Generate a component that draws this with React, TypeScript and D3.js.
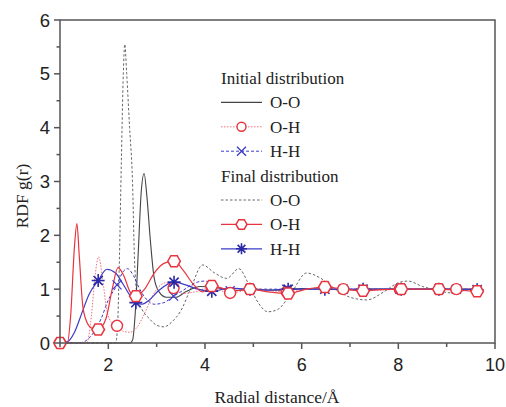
import React from "react";
import * as d3 from "d3";

// ---- data ----
const ooInitX = [1.0, 2.45, 2.5, 2.56, 2.62, 2.68, 2.74, 2.8, 2.87, 2.95, 3.05, 3.2, 3.4, 3.6, 3.9, 4.2, 4.6, 5.0, 5.5, 6.0, 6.5, 7.0, 7.5, 8.0, 8.5, 9.0, 9.5, 9.7];
const ooInitY = [0, 0, 0.05, 0.6, 1.7, 2.8, 3.15, 2.7, 1.9, 1.2, 0.95, 0.85, 0.85, 0.95, 1.05, 1.03, 0.98, 1.0, 0.98, 1.01, 1.0, 0.99, 1.0, 1.0, 1.0, 1.0, 1.0, 1.0];

const ooFinX = [1.0, 2.15, 2.19, 2.23, 2.27, 2.31, 2.34, 2.38, 2.44, 2.5, 2.54, 2.6, 2.7, 2.85, 3.0, 3.15, 3.3, 3.5, 3.7, 3.95, 4.2, 4.45, 4.7, 4.9, 5.1, 5.3, 5.5, 5.8, 6.1, 6.4, 6.7, 7.0, 7.35, 7.7, 8.0, 8.2, 8.5, 8.8, 9.1, 9.4, 9.7];
const ooFinY = [0, 0, 0.3, 1.6, 3.4, 5.0, 5.55, 5.0, 4.0, 3.0, 1.6, 0.85, 0.62, 0.45, 0.33, 0.3, 0.38, 0.6, 1.0, 1.45, 1.3, 1.2, 1.38, 1.1, 0.75, 0.58, 0.62, 0.95, 1.3, 1.2, 1.0, 0.85, 0.8, 0.95, 1.12, 1.15, 1.05, 0.98, 0.93, 0.98, 1.0];

const ohInitX = [1.0, 1.55, 1.65, 1.72, 1.8, 1.88, 1.97, 2.07, 2.18, 2.3, 2.45, 2.6, 2.75, 2.9, 3.05, 3.2, 3.35, 3.55, 3.8, 4.1, 4.52, 5.0, 5.69, 6.3, 6.86, 7.45, 8.03, 8.6, 9.2, 9.7];
const ohInitY = [0, 0, 0.5, 1.2, 1.6, 1.2, 0.6, 0.38, 0.32, 0.22, 0.2, 0.3, 0.55, 0.85, 1.05, 1.12, 1.02, 0.92, 0.95, 1.03, 0.93, 1.0, 0.95, 1.02, 1.0, 0.98, 1.0, 1.0, 1.0, 0.99];
const ohInitMarkX = [1.0, 2.18, 3.35, 4.52, 5.69, 6.86, 8.03, 9.2];

const ohFinX = [1.0, 1.15, 1.22, 1.3, 1.35, 1.4, 1.47, 1.55, 1.65, 1.79, 1.95, 2.08, 2.2, 2.32, 2.45, 2.57, 2.75, 2.95, 3.15, 3.36, 3.55, 3.75, 3.95, 4.14, 4.35, 4.55, 4.75, 4.93, 5.3, 5.72, 6.1, 6.48, 6.9, 7.27, 7.65, 8.06, 8.45, 8.84, 9.25, 9.63];
const ohFinY = [0, 0, 0.5, 1.8, 2.22, 1.6, 0.7, 0.4, 0.28, 0.25, 0.45, 1.0, 1.4, 1.25, 0.95, 0.87, 1.0, 1.3, 1.48, 1.52, 1.35, 1.1, 0.95, 1.06, 1.02, 0.97, 0.98, 1.0, 0.95, 0.92, 1.0, 1.04, 1.0, 0.97, 0.99, 1.0, 1.0, 1.0, 0.98, 0.96];
const ohFinMarkX = [1.0, 1.79, 2.57, 3.36, 4.14, 4.93, 5.72, 6.48, 7.27, 8.06, 8.84, 9.63];

const hhInitX = [1.0, 1.4, 1.55, 1.7, 1.85, 2.0, 2.18, 2.3, 2.4, 2.52, 2.65, 2.8, 2.95, 3.15, 3.35, 3.55, 3.8, 4.0, 4.25, 4.52, 5.1, 5.69, 6.3, 6.86, 7.45, 8.03, 8.6, 9.2, 9.7];
const hhInitY = [0, 0, 0.05, 0.2, 0.45, 0.8, 1.08, 1.32, 1.38, 1.25, 1.0, 0.8, 0.72, 0.75, 0.87, 0.98, 1.12, 1.15, 1.05, 0.97, 1.0, 1.0, 1.0, 1.0, 1.0, 1.0, 1.0, 1.0, 1.0];
const hhInitMarkX = [2.18, 3.35, 4.52, 5.69, 6.86, 8.03, 9.2];

const hhFinX = [1.0, 1.15, 1.3, 1.45, 1.6, 1.79, 1.97, 2.15, 2.3, 2.45, 2.57, 2.7, 2.85, 3.05, 3.36, 3.6, 3.85, 4.14, 4.5, 4.93, 5.3, 5.72, 6.1, 6.48, 6.9, 7.27, 7.65, 8.06, 8.45, 8.84, 9.25, 9.63];
const hhFinY = [0, 0.02, 0.2, 0.55, 0.9, 1.16, 1.37, 1.3, 1.1, 0.88, 0.75, 0.72, 0.8, 0.98, 1.13, 1.08, 1.0, 0.96, 1.02, 1.0, 0.98, 1.0, 1.0, 1.0, 1.0, 1.0, 1.0, 1.0, 1.0, 1.0, 1.0, 0.99];
const hhFinMarkX = [1.79, 2.57, 3.36, 4.14, 4.93, 5.72, 6.48, 7.27, 8.06, 8.84, 9.63];

const xTicks = [2, 4, 6, 8, 10];
const xMinor = [1, 3, 5, 7, 9];
const yTicks = [0, 1, 2, 3, 4, 5, 6];
const yMinor = [0.5, 1.5, 2.5, 3.5, 4.5, 5.5];

const legendTitles = ["Initial distribution", "Final distribution"];
const legendLabels = ["O-O", "O-H", "H-H"];

// ---- styles ----
const RED = "#e8343e";
const RED_L = "#f07078";
const BLUE = "#3c3cc8";
const BLUE_D = "#2a2aa8";
const GRAY = "#555";
const SERIF = "'Liberation Serif', 'Times New Roman', serif";
const SANS = "'Liberation Sans', Arial, sans-serif";

const W = 506, H = 407;
const x = d3.scaleLinear().domain([1, 10]).range([60, 495]);
const y = d3.scaleLinear().domain([0, 6]).range([343, 20]);

function makeLine(xs: number[], ys: number[]) {
  const pts = xs.map((v, i) => [v, ys[i]] as [number, number]);
  return d3.line<[number, number]>().x(d => x(d[0])).y(d => y(d[1])).curve(d3.curveMonotoneX)(pts) || "";
}
function interp(xs: number[], ys: number[], xv: number) {
  const i = xs.findIndex(v => Math.abs(v - xv) < 1e-6);
  if (i >= 0) return ys[i];
  const j = d3.bisectLeft(xs, xv);
  const t = (xv - xs[j - 1]) / (xs[j] - xs[j - 1]);
  return ys[j - 1] + t * (ys[j] - ys[j - 1]);
}

function Hexagon({ cx, cy, r, color }: { cx: number; cy: number; r: number; color: string }) {
  const pts = d3.range(6).map(i => {
    const a = (Math.PI / 3) * i;
    return `${cx + r * Math.cos(a)},${cy + r * Math.sin(a)}`;
  }).join(" ");
  return <polygon points={pts} fill="white" stroke={color} strokeWidth={1.5} />;
}
function Cross({ cx, cy, r, color }: { cx: number; cy: number; r: number; color: string }) {
  return <path d={`M${cx - r},${cy - r}L${cx + r},${cy + r}M${cx - r},${cy + r}L${cx + r},${cy - r}`} stroke={color} strokeWidth={1.3} fill="none" />;
}
function Star({ cx, cy, r, color }: { cx: number; cy: number; r: number; color: string }) {
  const d = d3.range(4).map(i => {
    const a = (Math.PI / 4) * i;
    const dx = r * Math.cos(a), dy = r * Math.sin(a);
    return `M${cx - dx},${cy - dy}L${cx + dx},${cy + dy}`;
  }).join("");
  return <path d={d} stroke={color} strokeWidth={1.6} fill="none" />;
}

export default function App() {
  const legendX0 = 221, legendX1 = 262, legendTextX = 270;
  const rowY = (i: number) => 78 + i * 24.4;

  return (
    <svg width={W} height={H} style={{ display: "block", position: "absolute", left: 0, top: 0, background: "white" }}>
      <rect width={W} height={H} fill="white" />
      {/* curves */}
      <path d={makeLine(ooFinX, ooFinY)} fill="none" stroke="#666" strokeWidth={1} strokeDasharray="2.5,2" />
      <path d={makeLine(ooInitX, ooInitY)} fill="none" stroke="#444" strokeWidth={1.1} />
      <path d={makeLine(hhInitX, hhInitY)} fill="none" stroke={BLUE} strokeWidth={1} strokeDasharray="3,2" />
      <path d={makeLine(ohInitX, ohInitY)} fill="none" stroke={RED_L} strokeWidth={1} strokeDasharray="1.5,1.5" />
      <path d={makeLine(hhFinX, hhFinY)} fill="none" stroke={BLUE} strokeWidth={1.2} />
      <path d={makeLine(ohFinX, ohFinY)} fill="none" stroke={RED} strokeWidth={1.2} />
      {/* markers */}
      {hhInitMarkX.map((v, i) => <Cross key={"hx" + i} cx={x(v)} cy={y(interp(hhInitX, hhInitY, v))} r={4.5} color={BLUE} />)}
      {ohInitMarkX.map((v, i) => <circle key={"oc" + i} cx={x(v)} cy={y(interp(ohInitX, ohInitY, v))} r={5.5} fill="white" stroke={RED} strokeWidth={1.4} />)}
      {hhFinMarkX.map((v, i) => <Star key={"hs" + i} cx={x(v)} cy={y(interp(hhFinX, hhFinY, v))} r={6.5} color={BLUE_D} />)}
      {ohFinMarkX.map((v, i) => <Hexagon key={"oh" + i} cx={x(v)} cy={y(interp(ohFinX, ohFinY, v))} r={6.3} color={RED} />)}

      {/* frame */}
      <rect x={60} y={20} width={435} height={323} fill="none" stroke={GRAY} strokeWidth={1.5} />
      {/* x ticks */}
      {xTicks.map(t => (
        <g key={"xt" + t}>
          <line x1={x(t)} x2={x(t)} y1={343} y2={349} stroke={GRAY} strokeWidth={1.5} />
          <text x={x(t)} y={371} textAnchor="middle" fontFamily={SANS} fontSize={18} fill="#222">{t}</text>
        </g>
      ))}
      {xMinor.map(t => <line key={"xm" + t} x1={x(t)} x2={x(t)} y1={343} y2={347} stroke={GRAY} strokeWidth={1.5} />)}
      {yTicks.map(t => (
        <g key={"yt" + t}>
          <line x1={54} x2={60} y1={y(t)} y2={y(t)} stroke={GRAY} strokeWidth={1.5} />
          <text x={50} y={y(t) + 6.5} textAnchor="end" fontFamily={SANS} fontSize={18.5} fill="#222">{t}</text>
        </g>
      ))}
      {yMinor.map(t => <line key={"ym" + t} x1={56.5} x2={60} y1={y(t)} y2={y(t)} stroke={GRAY} strokeWidth={1.5} />)}

      {/* axis titles */}
      <text x={277} y={403} textAnchor="middle" fontFamily={SERIF} fontSize={17.5} fill="#222">Radial distance/Å</text>
      <text transform="translate(28,196) rotate(-90)" textAnchor="middle" fontFamily={SERIF} fontSize={17.5} fill="#222">RDF g(r)</text>

      {/* legend */}
      <text x={221} y={rowY(0) + 6} fontFamily={SERIF} fontSize={17} fill="#222">{legendTitles[0]}</text>
      <line x1={legendX0} x2={legendX1} y1={rowY(1)} y2={rowY(1)} stroke="#444" strokeWidth={1.1} />
      <line x1={legendX0} x2={legendX1} y1={rowY(2)} y2={rowY(2)} stroke={RED_L} strokeWidth={1} strokeDasharray="1.5,1.5" />
      <circle cx={(legendX0 + legendX1) / 2} cy={rowY(2)} r={4.5} fill="white" stroke={RED} strokeWidth={1.4} />
      <line x1={legendX0} x2={legendX1} y1={rowY(3)} y2={rowY(3)} stroke={BLUE} strokeWidth={1} strokeDasharray="3,2" />
      <Cross cx={(legendX0 + legendX1) / 2} cy={rowY(3)} r={4.5} color={BLUE} />
      <text x={221} y={rowY(4) + 6} fontFamily={SERIF} fontSize={17} fill="#222">{legendTitles[1]}</text>
      <line x1={legendX0} x2={legendX1} y1={rowY(5)} y2={rowY(5)} stroke="#666" strokeWidth={1} strokeDasharray="2.5,2" />
      <line x1={legendX0} x2={legendX1} y1={rowY(6)} y2={rowY(6)} stroke={RED} strokeWidth={1.2} />
      <Hexagon cx={(legendX0 + legendX1) / 2} cy={rowY(6)} r={5.5} color={RED} />
      <line x1={legendX0} x2={legendX1} y1={rowY(7)} y2={rowY(7)} stroke={BLUE} strokeWidth={1.2} />
      <Star cx={(legendX0 + legendX1) / 2} cy={rowY(7)} r={5.5} color={BLUE_D} />
      {[1, 2, 3, 5, 6, 7].map((r, i) => (
        <text key={"lt" + r} x={legendTextX} y={rowY(r) + 6} fontFamily={SERIF} fontSize={17} fill="#222">{legendLabels[i % 3]}</text>
      ))}
    </svg>
  );
}
